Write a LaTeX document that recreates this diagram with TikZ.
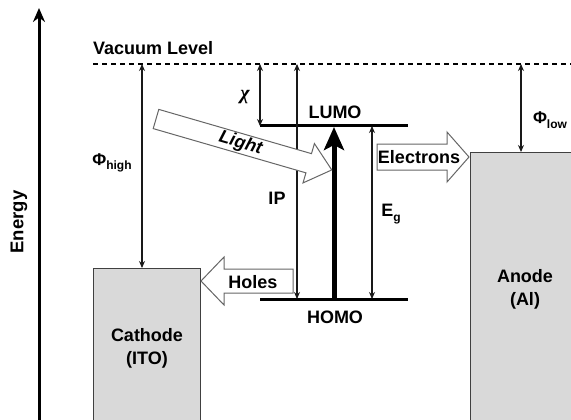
\documentclass[tikz,border=0pt]{standalone}
\usepackage{fontspec}
\setmainfont{Liberation Sans}
\newfontfamily\chifont{Liberation Serif}
\usetikzlibrary{arrows.meta}
\begin{document}
\begin{tikzpicture}[x=1pt,y=-1pt,
  lbl/.style={font=\fontsize{18}{23}\selectfont\bfseries, inner sep=0pt, align=center},
  dbl/.style={line width=1.1pt, draw=black!90, {Stealth[length=7pt,width=6pt]}-{Stealth[length=7pt,width=6pt]}},
  level/.style={line width=3pt},
  electrode/.style={fill=black!15, draw=black!75, line width=1.2pt, anchor=north west, inner sep=0pt},
  blockarrow/.style={fill=white, draw=black!60, line width=1pt, line join=miter},
  vacuum/.style={line width=1.1pt, dash pattern=on 5pt off 4pt},
  axis/.style={line width=3pt, -{Stealth[length=14pt,width=12pt]}},
  excite/.style={line width=5pt, -{Stealth[length=23pt,width=20pt,inset=5pt]}}
]
\useasboundingbox (0,0) rectangle (571,420);

% coordinates
\coordinate (axB) at (39,420);
\coordinate (axT) at (39,8);
\coordinate (vacL) at (93,64);
\coordinate (vacR) at (571,64);
\coordinate (lumoL) at (260,126);
\coordinate (lumoR) at (408,126);
\coordinate (homoL) at (260,299);
\coordinate (homoR) at (408,299);
\coordinate (phH) at (142,64);
\coordinate (chiT) at (260,64);
\coordinate (ipT) at (297,64);
\coordinate (egT) at (372,126);
\coordinate (exB) at (334,299);
\coordinate (exT) at (334,127);
\coordinate (phL) at (521,64);

% electrodes
\node[electrode, minimum width=107pt, minimum height=161pt] (cath) at (93,268) {};
\node[lbl] (cathtext) at (147,348.5) {Cathode\\(ITO)};
\node[electrode, minimum width=110pt, minimum height=274pt] (anode) at (470,152) {};
\node[lbl] (anodetext) at (525,289) {Anode\\(Al)};

% energy axis
\draw[axis] (axB) -- (axT);
\node[lbl, rotate=90, font=\fontsize{18.5}{20}\selectfont\bfseries] (energy) at (19,222) {Energy};

% vacuum level
\draw[vacuum] (vacL) -- (vacR);
\node[lbl, anchor=west] (vac) at (93,48) {Vacuum Level};

% levels
\draw[level] (lumoL) -- (lumoR);
\draw[level] (homoL) -- (homoR);
\node[lbl] (lumo) at (335,112) {LUMO};
\node[lbl] (homo) at (335,317) {HOMO};

% energy differences
\draw[dbl] (phH) -- (phH |- cath.north);
\node[inner sep=0pt] (phhigh) at (112,163) {\fontsize{17}{20}\selectfont\bfseries Φ\raisebox{-0.5ex}{\fontsize{12}{14}\selectfont high}};
\draw[dbl] (chiT) -- (lumoL);
\node[inner sep=0pt] (chi) at (245,97) {\fontsize{20}{22}\selectfont\chifont\bfseries\itshape χ};
\draw[dbl] (ipT) -- (ipT |- homoL);
\node[lbl] (ip) at (277,198) {IP};
\draw[dbl] (egT) -- (egT |- homoL);
\node[inner sep=0pt] (eg) at (391,214) {\fontsize{18}{20}\selectfont\bfseries E\raisebox{-0.5ex}{\fontsize{12}{14}\selectfont g}};
\draw[dbl] (phL) -- (phL |- anode.north);
\node[inner sep=0pt] (phlow) at (550,120) {\fontsize{17}{20}\selectfont\bfseries Φ\raisebox{-0.5ex}{\fontsize{12}{14}\selectfont low}};

% excitation arrow
\draw[excite] (exB) -- (exT);

% block arrows
\draw[blockarrow] (377,144) -- (447,144) -- (447,132) -- (469,157) -- (447,182) -- (447,170) -- (377,170) -- cycle;
\node[lbl] (elec) at (419,157) {Electrons};

\draw[blockarrow] (293,269) -- (224,269) -- (224,257) -- (201,281) -- (224,305) -- (224,293) -- (293,293) -- cycle;
\node[lbl] (holes) at (253,282) {Holes};

\begin{scope}[shift={(156,119)}, rotate=-16.16]
  \draw[blockarrow] (0,-10) -- (159,-10) -- (159,-20.5) -- (183,0) -- (159,20.5) -- (159,10) -- (0,10) -- cycle;
  \node[lbl, rotate=-16.16, font=\fontsize{18}{20}\selectfont\bfseries\itshape] (light) at (88,0) {Light};
\end{scope}
\end{tikzpicture}
\end{document}
